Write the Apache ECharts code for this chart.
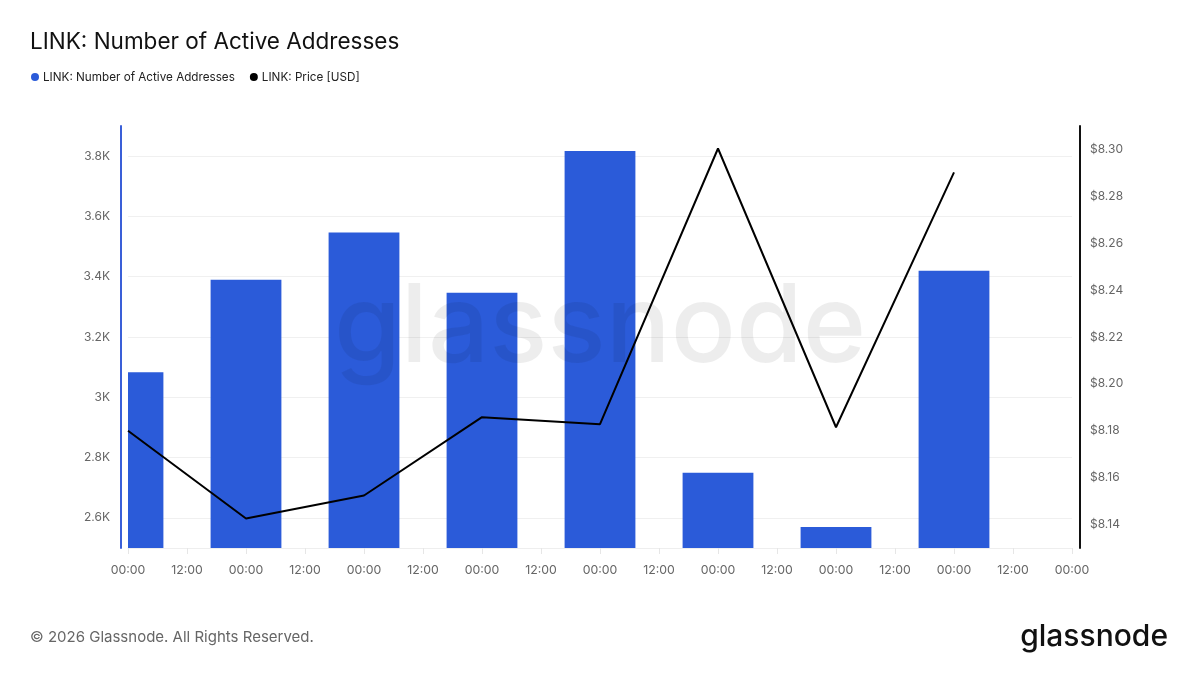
<!DOCTYPE html>
<html>
<head>
<meta charset="utf-8">
<script src="https://cdn.jsdelivr.net/npm/echarts@6/dist/echarts.min.js"></script>
<style>html,body{margin:0;padding:0;background:#fff;}#c{width:1200px;height:675px;}</style>
</head>
<body>
<div id="c"></div>
<script>
const dates = ['2026-01-10','2026-01-11','2026-01-12','2026-01-13','2026-01-14','2026-01-15','2026-01-16','2026-01-17'];
const activeAddresses = [3083, 3390, 3547, 3347, 3817, 2750, 2570, 3420];
const price = [8.180, 8.1426, 8.1524, 8.1858, 8.1828, 8.3004, 8.1815, 8.2902];
const axisStart = '2026-01-10';
const axisEnd = '2026-01-18';

// x positions are hours elapsed since axisStart (axis ticks every 12 hours)
const hoursFromStart = d => (Date.parse(d + 'T00:00:00Z') - Date.parse(axisStart + 'T00:00:00Z')) / 3600000;
const pad = n => (n < 10 ? '0' : '') + n;
const font = 'Inter, "Noto Sans", sans-serif';
const BAR_COLOR = '#2b5bd9';
const Y_MIN = 2500;

const chart = echarts.init(document.getElementById('c'));

function renderBar(params, api) {
  const top = api.coord([api.value(0), api.value(1)]);
  const base = api.coord([api.value(0), Y_MIN]);
  const w = api.size([24, 0])[0] * 0.6;
  const cs = params.coordSys;
  const rect = echarts.graphic.clipRectByRect(
    { x: top[0] - w / 2, y: top[1], width: w, height: base[1] - top[1] },
    { x: cs.x, y: cs.y, width: cs.width, height: cs.height }
  );
  return rect && { type: 'rect', shape: rect, style: api.style({ fill: BAR_COLOR }) };
}

chart.setOption({
  animation: false,
  backgroundColor: '#fff',
  textStyle: { fontFamily: font },
  title: {
    text: 'LINK: Number of Active Addresses',
    left: 30, top: 31, padding: 0,
    textStyle: { fontSize: 22.5, fontWeight: 'normal', color: '#111', fontFamily: font }
  },
  legend: {
    left: 31, top: 71, padding: 0,
    itemWidth: 8, itemHeight: 8, itemGap: 15,
    icon: 'circle',
    textStyle: { fontSize: 11.7, color: '#222', fontFamily: font, padding: [0, 0, 0, -1] },
    data: ['LINK: Number of Active Addresses', 'LINK: Price [USD]']
  },
  grid: { left: 128, right: 128, top: 126, bottom: 127, containLabel: false },
  xAxis: {
    type: 'value',
    min: 0, max: hoursFromStart(axisEnd), interval: 12,
    axisLine: { show: true, onZero: false, lineStyle: { color: '#eeeeee', width: 1 } },
    axisTick: { show: true, length: 6, lineStyle: { color: '#e6e6e6' } },
    splitLine: { show: false },
    axisLabel: {
      color: '#666', fontSize: 12.3, margin: 16, fontFamily: font,
      formatter: v => pad(v % 24) + ':00'
    }
  },
  yAxis: [
    {
      type: 'value', min: Y_MIN, max: 3900, splitNumber: 7,
      position: 'left', offset: 7,
      axisLine: { show: true, onZero: false, lineStyle: { color: '#3a5fd8', width: 2 } },
      axisTick: { show: false },
      splitLine: { show: true, showMinLine: false, showMaxLine: false, lineStyle: { color: '#f0f0f0' } },
      axisLabel: {
        color: '#666', fontSize: 12, margin: 11, fontFamily: font,
        formatter: v => (v % 200 !== 0 ? '' : (v % 1000 === 0 ? (v / 1000) + 'K' : (v / 1000).toFixed(1) + 'K'))
      }
    },
    {
      type: 'value', min: 8.13, max: 8.31, splitNumber: 9,
      position: 'right', offset: 8,
      axisLine: { show: true, onZero: false, lineStyle: { color: '#111', width: 2 } },
      axisTick: { show: false },
      splitLine: { show: false },
      axisLabel: {
        color: '#666', fontSize: 12, margin: 10, fontFamily: font,
        formatter: v => { const r = Math.round(v * 100); return (r % 2 !== 0 || Math.abs(v * 100 - r) > 1e-6) ? '' : '$' + v.toFixed(2); }
      }
    }
  ],
  series: [
    {
      name: 'LINK: Number of Active Addresses',
      type: 'custom',
      yAxisIndex: 0,
      renderItem: renderBar,
      itemStyle: { color: BAR_COLOR },
      encode: { x: 0, y: 1 },
      data: dates.map((d, i) => [hoursFromStart(d), activeAddresses[i]]),
      z: 2
    },
    {
      name: 'LINK: Price [USD]',
      type: 'line',
      yAxisIndex: 1,
      showSymbol: false,
      symbol: 'circle',
      itemStyle: { color: '#000' },
      lineStyle: { color: '#000', width: 2 },
      data: dates.map((d, i) => [hoursFromStart(d), price[i]]),
      z: 3
    }
  ],
  graphic: [
    {
      type: 'text', left: 'center', top: 276, z: 100, silent: true,
      style: { text: 'glassnode', fontSize: 108, fontWeight: 500, fontFamily: font, fill: 'rgba(0,0,0,0.07)' }
    },
    {
      type: 'text', left: 30, top: 630, z: 100,
      style: { text: '© 2026 Glassnode. All Rights Reserved.', fontSize: 15, fontFamily: font, fill: '#666' }
    },
    {
      type: 'text', right: 32, top: 622, z: 100,
      style: { text: 'glassnode', fontSize: 30, fontWeight: 500, fontFamily: font, fill: '#111' }
    }
  ]
});
</script>
</body>
</html>
